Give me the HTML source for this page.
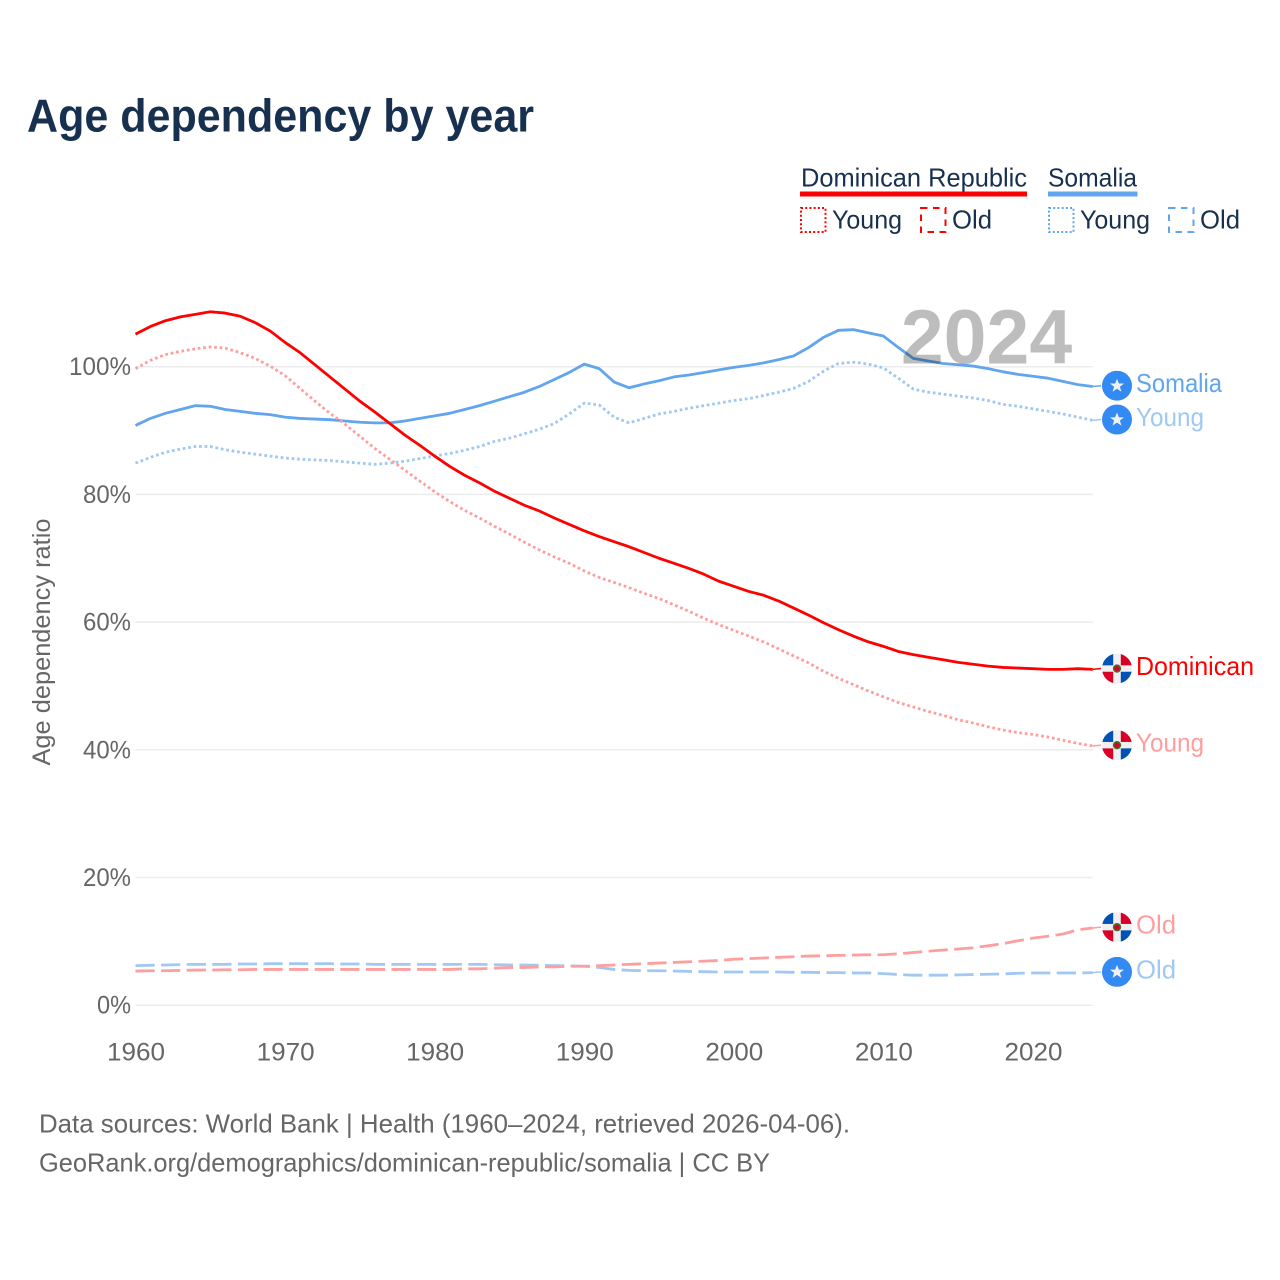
<!DOCTYPE html>
<html lang="en">
<head>
<meta charset="utf-8">
<title>Age dependency by year</title>
<style>
html,body{margin:0;padding:0;background:#fff;width:1280px;height:1280px;overflow:hidden}
svg{display:block;font-family:"Liberation Sans",sans-serif}
</style>
</head>
<body>
<svg id="chart" width="1280" height="1280" viewBox="0 0 1280 1280" xmlns="http://www.w3.org/2000/svg">
  <defs>
    <clipPath id="flag-clip"><circle cx="0" cy="0" r="15"/></clipPath>
  </defs>
  <rect width="1280" height="1280" fill="#fff"/>
  <text x="27" y="131.5" font-size="46" font-weight="700" fill="#18304f" textLength="507" lengthAdjust="spacingAndGlyphs">Age dependency by year</text>

  <g font-size="26" fill="#18304f">
    <text x="801" y="186.5" textLength="226" lengthAdjust="spacingAndGlyphs">Dominican Republic</text>
    <rect x="800" y="191.5" width="227" height="5" fill="#ff0000"/>
    <text x="1048" y="186.5" textLength="89" lengthAdjust="spacingAndGlyphs">Somalia</text>
    <rect x="1048" y="191.5" width="89.5" height="5" fill="#60a5ee"/>
    <rect x="801" y="208" width="24.5" height="24" fill="none" stroke="#ff0000" stroke-width="2" stroke-dasharray="2 2.2"/>
    <text x="832" y="228.5" textLength="70" lengthAdjust="spacingAndGlyphs">Young</text>
    <rect x="921" y="208" width="24.5" height="24" fill="none" stroke="#ff0000" stroke-width="2" stroke-dasharray="6.5 5.5"/>
    <text x="952" y="228.5" textLength="40" lengthAdjust="spacingAndGlyphs">Old</text>
    <rect x="1049" y="208" width="24.5" height="24" fill="none" stroke="#60a5ee" stroke-width="2" stroke-dasharray="2 2.2"/>
    <text x="1080" y="228.5" textLength="70" lengthAdjust="spacingAndGlyphs">Young</text>
    <rect x="1169" y="208" width="24.5" height="24" fill="none" stroke="#60a5ee" stroke-width="2" stroke-dasharray="6.5 5.5"/>
    <text x="1200" y="228.5" textLength="40" lengthAdjust="spacingAndGlyphs">Old</text>
  </g>

  <g id="grid"></g>
  <g id="series"></g>
  <text x="986.5" y="363.5" text-anchor="middle" font-size="77" font-weight="700" fill="#bdbdbd" style="mix-blend-mode:multiply">2024</text>
  <g id="yticks"></g>
  <g id="xticks"></g>
  <g id="endlabels"></g>

  <text transform="translate(50,642) rotate(-90)" text-anchor="middle" font-size="25" fill="#666" textLength="247" lengthAdjust="spacingAndGlyphs">Age dependency ratio</text>
  <text x="39" y="1132.5" font-size="26" fill="#666" textLength="811" lengthAdjust="spacingAndGlyphs">Data sources: World Bank | Health (1960–2024, retrieved 2026-04-06).</text>
  <text x="39" y="1171.5" font-size="26" fill="#666" textLength="731" lengthAdjust="spacingAndGlyphs">GeoRank.org/demographics/dominican-republic/somalia | CC BY</text>
</svg>
<script>
const years = [1960,1961,1962,1963,1964,1965,1966,1967,1968,1969,
  1970,1971,1972,1973,1974,1975,1976,1977,1978,1979,
  1980,1981,1982,1983,1984,1985,1986,1987,1988,1989,
  1990,1991,1992,1993,1994,1995,1996,1997,1998,1999,
  2000,2001,2002,2003,2004,2005,2006,2007,2008,2009,
  2010,2011,2012,2013,2014,2015,2016,2017,2018,2019,
  2020,2021,2022,2023,2024];
const dominicanTotal = [105.1,106.3,107.2,107.8,108.2,108.6,108.4,107.9,106.9,105.6,
  103.8,102.2,100.3,98.4,96.5,94.6,92.9,91.1,89.3,87.7,
  86.0,84.4,83.0,81.8,80.5,79.4,78.3,77.4,76.3,75.3,
  74.3,73.4,72.6,71.8,70.9,70.0,69.2,68.4,67.5,66.4,
  65.6,64.8,64.2,63.3,62.2,61.1,59.9,58.8,57.8,56.9,
  56.2,55.4,54.9,54.5,54.1,53.7,53.4,53.1,52.9,52.8,
  52.7,52.6,52.6,52.7,52.6];
const dominicanYoung = [99.7,101.0,101.9,102.4,102.8,103.1,102.9,102.2,101.3,100.1,
  98.6,96.6,94.6,92.7,91.0,89.1,87.2,85.5,83.8,82.1,
  80.4,78.9,77.5,76.3,75.0,73.8,72.5,71.3,70.2,69.2,
  68.0,67.0,66.2,65.4,64.5,63.7,62.7,61.7,60.6,59.6,
  58.7,57.8,56.9,55.8,54.7,53.6,52.3,51.2,50.2,49.2,
  48.3,47.4,46.7,46.0,45.4,44.7,44.2,43.6,43.1,42.7,
  42.4,42.0,41.5,41.0,40.6];
const dominicanOld = [5.35,5.4,5.4,5.45,5.5,5.5,5.55,5.55,5.6,5.6,
  5.6,5.6,5.6,5.6,5.6,5.6,5.6,5.6,5.6,5.6,
  5.6,5.6,5.7,5.7,5.8,5.9,5.9,6.0,6.0,6.1,
  6.1,6.2,6.3,6.4,6.5,6.6,6.7,6.8,6.9,7.0,
  7.2,7.3,7.4,7.5,7.6,7.7,7.75,7.8,7.85,7.9,
  7.9,8.05,8.25,8.45,8.65,8.8,9.0,9.3,9.65,10.1,
  10.5,10.8,11.15,11.8,12.1];
const somaliaTotal = [90.8,91.9,92.7,93.3,93.9,93.8,93.3,93.0,92.7,92.5,
  92.1,91.9,91.8,91.7,91.5,91.3,91.2,91.2,91.5,91.9,
  92.3,92.7,93.3,93.9,94.6,95.3,96.0,96.9,98.0,99.1,
  100.4,99.7,97.6,96.7,97.3,97.8,98.4,98.7,99.1,99.5,
  99.9,100.2,100.6,101.1,101.7,103.0,104.6,105.7,105.8,105.3,
  104.8,103.0,101.3,100.9,100.5,100.3,100.1,99.7,99.2,98.8,
  98.5,98.2,97.7,97.2,96.9];
const somaliaYoung = [84.9,85.8,86.6,87.1,87.5,87.5,87.0,86.6,86.3,86.0,
  85.7,85.5,85.4,85.3,85.1,84.9,84.7,84.9,85.2,85.6,
  86.0,86.4,86.9,87.5,88.3,88.8,89.5,90.2,91.1,92.6,
  94.3,94.0,92.1,91.2,91.9,92.6,93.0,93.5,93.9,94.3,
  94.7,95.0,95.5,96.0,96.6,97.7,99.3,100.5,100.7,100.4,
  99.8,98.2,96.5,96.0,95.7,95.4,95.1,94.7,94.1,93.8,
  93.4,93.0,92.6,92.1,91.6];
const somaliaOld = [6.2,6.25,6.3,6.35,6.4,6.4,6.4,6.45,6.45,6.5,
  6.5,6.5,6.5,6.5,6.45,6.45,6.4,6.4,6.4,6.4,
  6.4,6.4,6.4,6.4,6.35,6.3,6.3,6.25,6.2,6.15,
  6.1,5.9,5.6,5.45,5.4,5.4,5.35,5.3,5.25,5.2,
  5.2,5.2,5.2,5.2,5.15,5.15,5.1,5.1,5.05,5.05,
  4.95,4.8,4.7,4.7,4.7,4.75,4.8,4.85,4.9,5.0,
  5.05,5.05,5.05,5.05,5.1];
const yTickValues = [0,20,40,60,80,100];
const yTickLabels = ['0%','20%','40%','60%','80%','100%'];
const xTickValues = [1960,1970,1980,1990,2000,2010,2020];
const xTickLabels = ['1960','1970','1980','1990','2000','2010','2020'];
const seriesNames = ['somalia-total','somalia-young','somalia-old','dominican-old','dominican-young','dominican-total'];
const seriesLabels = ['Somalia','Young','Old','Old','Young','Dominican'];

const plotLeft = 135.5, plotRight = 1092.8, plotBottom = 1005.2, plotTop100 = 366.7;
const xScale = function (year) {
  return plotLeft + (year - years[0]) / (years[years.length - 1] - years[0]) * (plotRight - plotLeft);
};
const yScale = function (value) {
  return plotBottom - value / 100 * (plotBottom - plotTop100);
};

const NS = 'http://www.w3.org/2000/svg';
const gridGroup = document.getElementById('grid');
const yGroup = document.getElementById('yticks');
const xGroup = document.getElementById('xticks');
const seriesGroup = document.getElementById('series');
const labelGroup = document.getElementById('endlabels');

const seriesValues = [somaliaTotal, somaliaYoung, somaliaOld, dominicanOld, dominicanYoung, dominicanTotal];
const seriesColors = ['#60a5ee','#a0c8f4','#a0c8f4','#ff9e9e','#ff9e9e','#ff0000'];
const seriesDash = ['', '2.75 2.75', '19.2 6.4', '19.2 6.4', '2.75 2.75', ''];
const seriesFlag = ['so','so','so','do','do','do'];
const seriesLabelWidth = [86,68,40,40,68,118];
const LABEL_GLYPH_SIZE = 26;

function svgEl(tag, attrs) {
  const el = document.createElementNS(NS, tag);
  Object.keys(attrs).forEach(function (k) { el.setAttribute(k, attrs[k]); });
  return el;
}

yTickValues.forEach(function (v, i) {
  const line = svgEl('line', {x1: plotLeft, x2: plotRight, y1: yScale(v), y2: yScale(v), stroke: '#ececec', 'stroke-width': 1.5});
  
  
  gridGroup.appendChild(line);
  const label = svgEl('text', {x: 131, y: yScale(v) + 8.5, 'text-anchor': 'end', 'font-size': 25, fill: '#666',
    textLength: yTickLabels[i].length === 4 ? 62 : (yTickLabels[i].length === 3 ? 48 : 34), lengthAdjust: 'spacingAndGlyphs'});
  label.textContent = yTickLabels[i];
  
  
  yGroup.appendChild(label);
});

xTickValues.forEach(function (v, i) {
  const label = svgEl('text', {x: xScale(v) + 0.5, y: 1060.5, 'text-anchor': 'middle', 'font-size': 25, fill: '#666',
    textLength: 58, lengthAdjust: 'spacingAndGlyphs'});
  label.textContent = xTickLabels[i];
  
  
  xGroup.appendChild(label);
});

seriesValues.forEach(function (values, s) {
  let d = '';
  values.forEach(function (v, i) {
    d += (i === 0 ? 'M' : 'L') + xScale(years[i]).toFixed(2) + ',' + yScale(v).toFixed(2);
  });
  const path = svgEl('path', {d: d, fill: 'none', stroke: seriesColors[s], 'stroke-width': 2.8, 'stroke-linejoin': 'round'});
  if (seriesDash[s]) path.setAttribute('stroke-dasharray', seriesDash[s]);
  
  
  seriesGroup.appendChild(path);
});

function drawFlag(kind, cy, name) {
  const g = svgEl('g', {transform: 'translate(1117,' + cy + ')'});
  
  
  const inner = svgEl('g', {'clip-path': 'url(#flag-clip)'});
  if (kind === 'so') {
    inner.appendChild(svgEl('rect', {x: -15, y: -15, width: 30, height: 30, fill: '#338af3'}));
    inner.appendChild(svgEl('polygon', {points: '0,-7 1.9,-2.2 7,-2.2 2.9,1 4.4,6 0,3.1 -4.4,6 -2.9,1 -7,-2.2 -1.9,-2.2', fill: '#f0f0f0'}));
  } else {
    inner.appendChild(svgEl('rect', {x: -15, y: -15, width: 30, height: 30, fill: '#f0f0f0'}));
    inner.appendChild(svgEl('rect', {x: -15, y: -15, width: 11.2, height: 11.8, fill: '#0052b4'}));
    inner.appendChild(svgEl('rect', {x: 3.8, y: -15, width: 11.2, height: 11.8, fill: '#d80027'}));
    inner.appendChild(svgEl('rect', {x: -15, y: 3.2, width: 11.2, height: 11.8, fill: '#d80027'}));
    inner.appendChild(svgEl('rect', {x: 3.8, y: 3.2, width: 11.2, height: 11.8, fill: '#0052b4'}));
    inner.appendChild(svgEl('circle', {cx: 0, cy: 0, r: 4.2, fill: '#496e2d'}));
    inner.appendChild(svgEl('circle', {cx: 0, cy: 0, r: 2.6, fill: '#d80027'}));
  }
  g.appendChild(inner);
  return g;
}

seriesValues.forEach(function (values, s) {
  const last = values[values.length - 1];
  const cy = yScale(last) - 0.8;
  const conn = svgEl('line', {x1: plotRight, y1: yScale(last), x2: 1101, y2: cy, stroke: seriesColors[s], 'stroke-width': 1.5});
  
  
  labelGroup.appendChild(conn);
  labelGroup.appendChild(drawFlag(seriesFlag[s], cy, seriesNames[s] + '-flag'));
  const text = svgEl('text', {x: 1136, y: cy + 6.5, 'font-size': LABEL_GLYPH_SIZE, fill: seriesColors[s],
    textLength: seriesLabelWidth[s], lengthAdjust: 'spacingAndGlyphs'});
  text.textContent = seriesLabels[s];
  
  
  labelGroup.appendChild(text);
});
</script>
</body>
</html>
